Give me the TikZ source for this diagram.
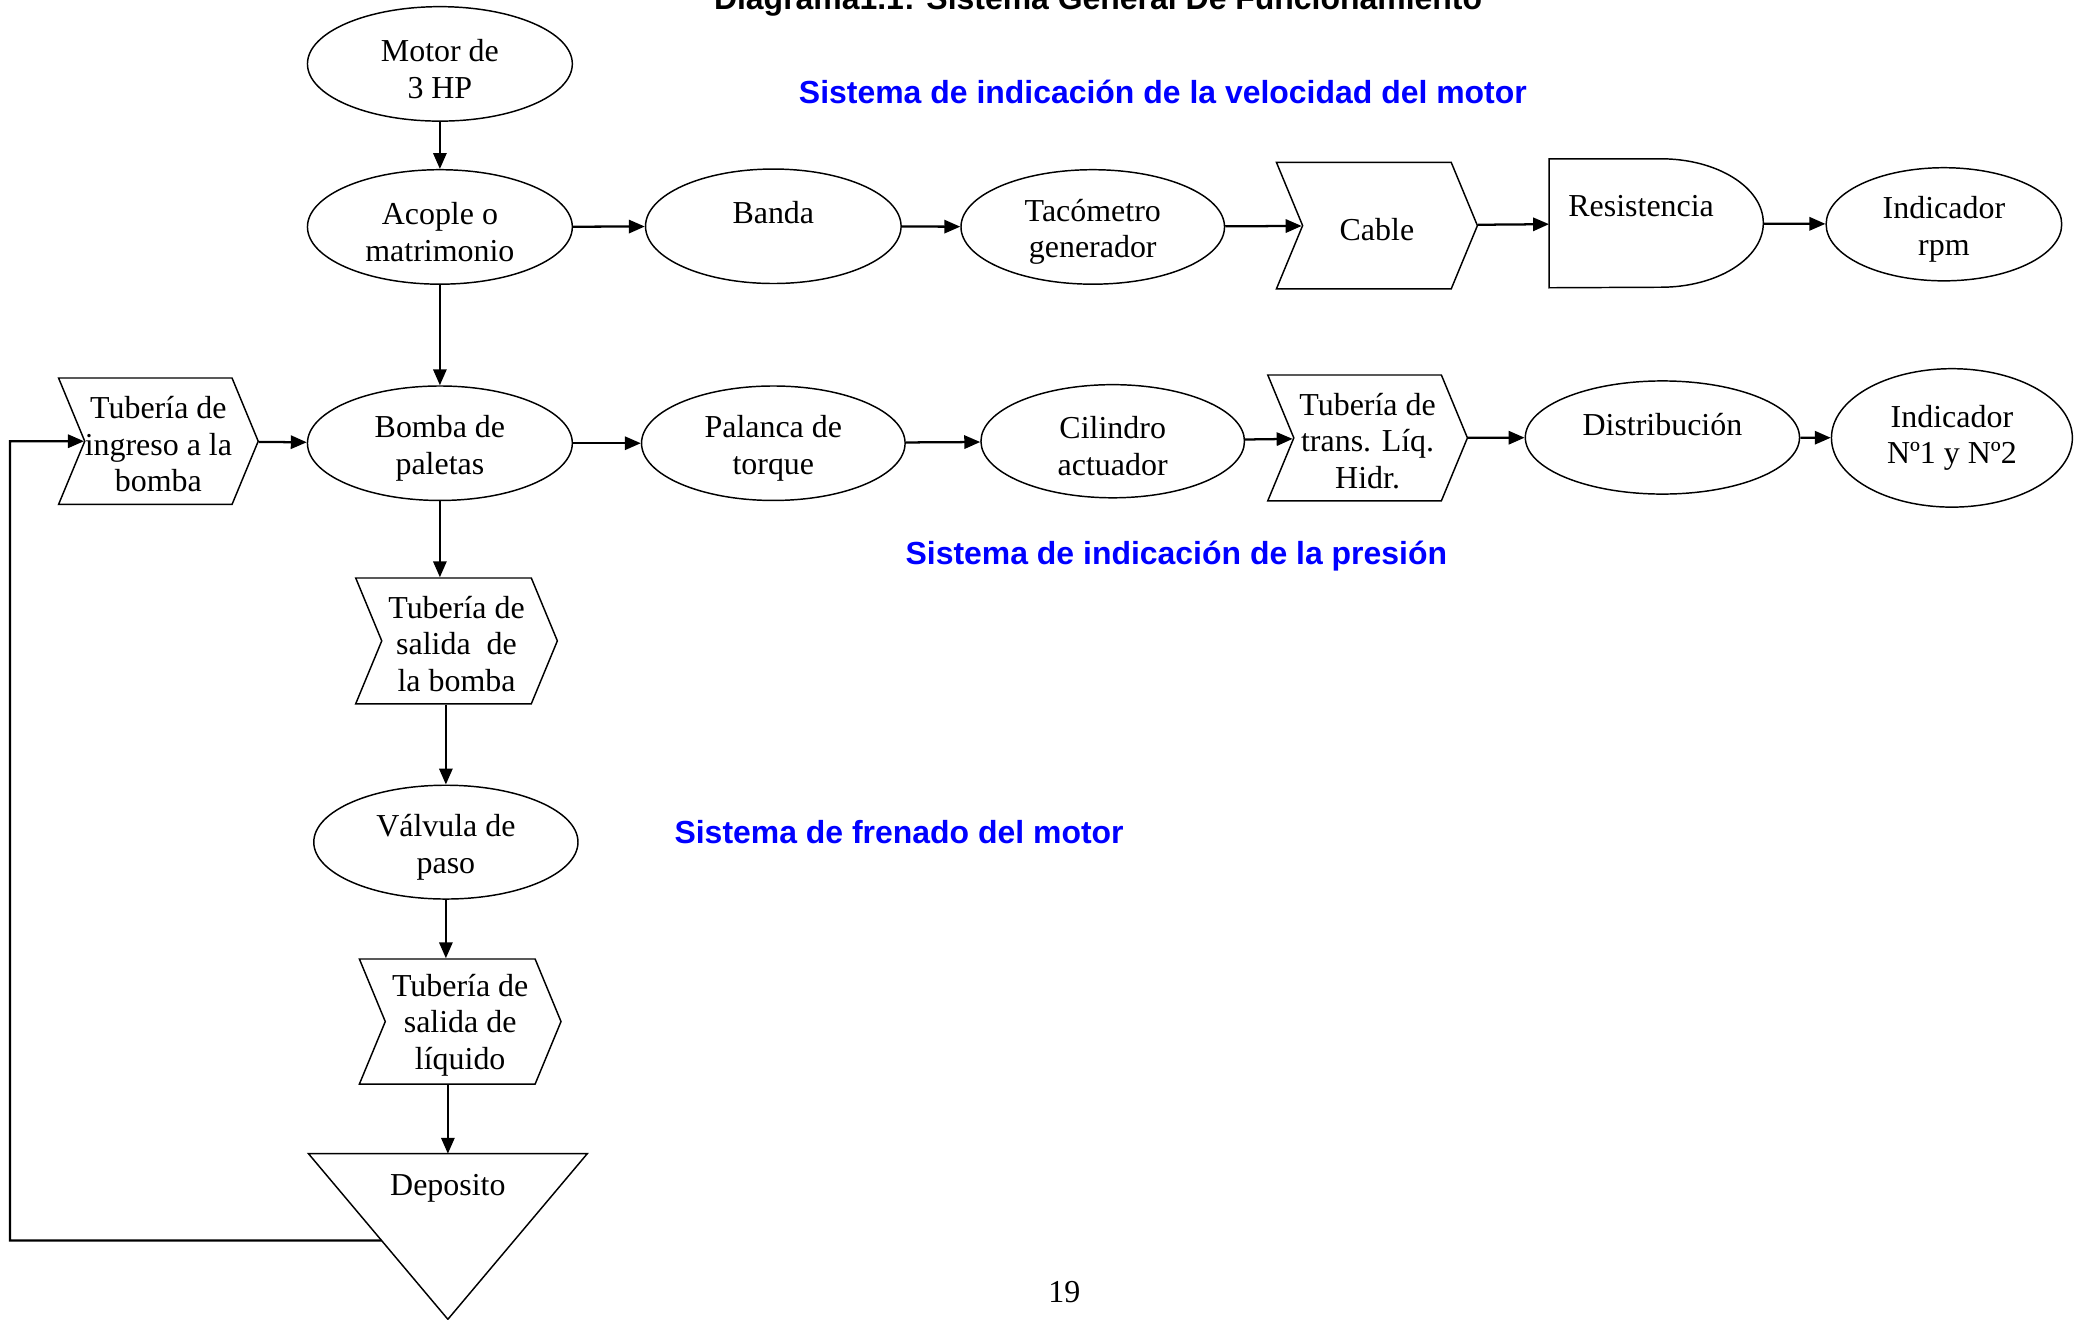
\documentclass[tikz,border=0pt]{standalone}
\usepackage{fontspec}
\setmainfont{Liberation Serif}
\newfontfamily\tagfont{Liberation Sans}
\usetikzlibrary{arrows.meta,positioning,shapes.geometric,shapes.symbols,calc}
\definecolor{Tc}{HTML}{0000FF}
\definecolor{Ln}{HTML}{000000}
\newcommand{\hi}[1][24]{\rule{0pt}{#1pt}}
\tikzset{
  txt/.style={font=\fontsize{24}{27.5}\selectfont, align=center},
  wh/.style 2 args={minimum width=#1pt, minimum height=#2pt},
  blob/.style={ellipse, draw=Ln, line width=1.1pt, inner sep=0pt, txt},
  pipe/.style={signal, signal from=west, signal to=east, signal pointer angle=135,
    draw=Ln, line width=1.1pt, inner sep=0pt, txt},
  frame/.style={rectangle, inner sep=0pt},
  outl/.style={draw=Ln, line width=1.1pt},
  link/.style={-{Triangle[length=12pt, width=10pt]}, line width=1.7pt},
  tag/.style={font=\tagfont\bfseries\fontsize{24}{27.5}\selectfont, Tc},
  hdr/.style={font=\tagfont\bfseries\fontsize{24}{27.5}\selectfont, black},
}

\begin{document}
\begin{tikzpicture}[x=1pt, y=-1pt]
  \useasboundingbox (0,0) rectangle (1568,991);
  \clip (0,0) rectangle (1568,991);
  % heading and system labels
  \node[hdr, anchor=base] (title) at (825,7.2) {Diagrama1.1: Sistema General De Funcionamiento};
  \node[tag, anchor=base] (tvel) at (873.7,77.6) {Sistema de indicación de la velocidad del motor};
  \node[tag, anchor=base] (tpres) at (883.8,424.3) {Sistema de indicación de la presión};
  \node[tag, anchor=base] (tfren) at (675.5,633.7) {Sistema de frenado del motor};
  % speed row
  \node[blob, wh={199}{86}] (motor) at (330.5,48) {\hi Motor de\\3 HP};
  \node[blob, wh={199}{86}] (acople) at (330.5,170.5) {\hi Acople o\\matrimonio};
  \node[blob, wh={192}{86}] (banda) at (581,170) {\hi Banda\\\mbox{}};
  \node[blob, wh={198}{86}] (taco) at (821,170.5) {\hi Tacómetro\\generador};
  \node[pipe, wh={151}{95}] (cable) at (1034.5,169.5) {\hi[22]Cable};
  \node[frame, wh={161}{96.5}] (res) at (1244.5,167.75) {};
  \draw[outl] (res.north west) -- ++(84,0)
    arc[start angle=90, end angle=-90, x radius=77pt, y radius=48.25pt]
    -- (res.south west) -- cycle;
  \node[txt] (restxt) at (1233,155) {Resistencia};
  \node[blob, wh={177}{85}] (rpm) at (1460.5,168.5) {\hi Indicador\\rpm};
  % pressure row
  \node[pipe, wh={150}{95}] (ingreso) at (119,331.5) {\hi[21]Tubería de\\ingreso a la\\bomba};
  \node[blob, wh={199}{86}] (bomba) at (330.5,333) {\hi Bomba de\\paletas};
  \node[blob, wh={198}{86}] (palanca) at (581,333) {\hi Palanca de\\torque};
  \node[blob, wh={198}{85}] (cil) at (836,331.5) {\hi Cilindro\\actuador};
  \node[pipe, wh={150}{94.5}] (trans) at (1027.5,329) {\hi[21]Tubería de\\trans. Líq.\\Hidr.};
  \node[blob, wh={206}{85}] (dist) at (1249,328.7) {\hi Distribución\\\mbox{}};
  \node[blob, wh={181}{104}] (ind) at (1466.5,329) {Indicador\\Nº1 y Nº2};
  % braking column
  \node[pipe, wh={151.5}{94.5}] (salb) at (343,481.5) {\hi[21]Tubería de\\salida~~de\\la bomba};
  \node[blob, wh={198.5}{85.5}] (valv) at (335,632.7) {\hi Válvula de\\paso};
  \node[pipe, wh={151.5}{94}] (sall) at (345.75,767.5) {\hi[22]Tubería de\\salida de\\líquido};
  \node[frame, wh={209}{124}] (dep) at (336.5,929) {};
  \draw[outl] (dep.north west) -- (dep.north east) -- (dep.south) -- cycle;
  \node[txt] (deptxt) at (336.5,892.5) {Deposito};
  \node[txt, anchor=base] (pg) at (799.6,978.5) {19};
  % connectors
  \draw[link] (motor) -- (acople);
  \draw[link] (acople) -- (banda);
  \draw[link] (banda) -- (taco);
  \draw[link] (taco) -- (cable);
  \draw[link] (cable) -- (res);
  \draw[link] (res) -- (rpm);
  \draw[link] (acople) -- (bomba);
  \draw[link] (ingreso) -- (bomba);
  \draw[link] (bomba) -- (palanca);
  \draw[link] (palanca) -- (cil);
  \draw[link] (cil) -- (trans);
  \draw[link] (trans) -- (dist);
  \draw[link] (dist) -- (ind);
  \draw[link] (bomba.south) -- (bomba.south |- salb.north);
  \draw[link] (valv.north |- salb.south) -- (valv.north);
  \draw[link] (valv.south) -- (valv.south |- sall.north);
  \draw[link] (dep.north |- sall.south) -- (dep.north);
  % return line to the pump inlet
  \coordinate (dout) at ($(dep.north west)!0.524!(dep.south)$);
  \coordinate (ret) at (7.5,932);
  \draw[link] (dout) -- (ret) |- (ingreso);
\end{tikzpicture}
\end{document}
